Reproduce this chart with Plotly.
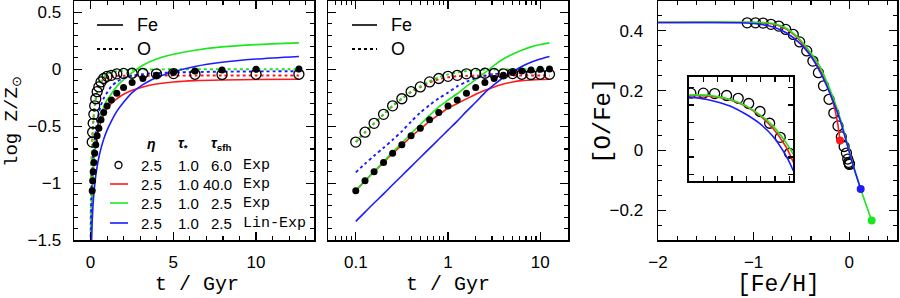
import plotly.graph_objects as go

# ---------------- data ----------------
# time grid of the tau_sfh = 6 Gyr model markers (Gyr)
t_pts = [0.1, 0.126, 0.158, 0.2, 0.251, 0.316, 0.398, 0.501, 0.631, 0.794, 1.0,
         1.259, 1.585, 1.995, 2.512, 3.162, 3.981, 5.012, 6.31, 7.943, 10.0, 12.589]
# early times used only by the linear-time panel (lines plunge toward t=0)
t_early = [0.003, 0.01, 0.03, 0.05]

# model tau_sfh=6 Exp : Fe (filled dots) and O (open circles), log Z/Zsun
fe_ref = [-1.067, -0.98, -0.901, -0.818, -0.737, -0.664, -0.585, -0.518, -0.444, -0.38, -0.322,
          -0.269, -0.211, -0.161, -0.117, -0.082, -0.053, -0.029, -0.015, -0.006, 0.0, 0.003]
o_ref = [-0.640, -0.553, -0.475, -0.396, -0.321, -0.259, -0.197, -0.155, -0.111, -0.081, -0.062,
         -0.053, -0.040, -0.036, -0.035, -0.037, -0.040, -0.038, -0.044, -0.046, -0.044, -0.044]

# tau_sfh = 40 Exp (red)
red_fe = [-1.067, -0.98, -0.90, -0.82, -0.74, -0.668, -0.592, -0.525, -0.458, -0.398, -0.342,
          -0.30, -0.26, -0.22, -0.185, -0.155, -0.13, -0.112, -0.10, -0.094, -0.09, -0.088]
red_o = [-0.640, -0.553, -0.475, -0.396, -0.321, -0.259, -0.199, -0.156, -0.115, -0.088, -0.07,
         -0.061, -0.058, -0.057, -0.057, -0.057, -0.056, -0.056, -0.055, -0.055, -0.055, -0.055]
# tau_sfh = 2.5 Exp (green)
green_fe = [-1.067, -0.98, -0.898, -0.812, -0.727, -0.648, -0.565, -0.485, -0.405, -0.33, -0.27,
            -0.215, -0.15, -0.09, -0.03, 0.035, 0.09, 0.132, 0.168, 0.197, 0.217, 0.232]
green_o = [-0.640, -0.553, -0.475, -0.396, -0.321, -0.257, -0.195, -0.15, -0.105, -0.07, -0.045,
           -0.027, -0.015, -0.008, -0.004, -0.002, -0.001, 0.0, 0.0, 0.0, 0.0, 0.0]
# tau_sfh = 2.5 Lin-Exp (blue)
blue_fe = [-1.336, -1.255, -1.175, -1.095, -1.015, -0.935, -0.855, -0.775, -0.695, -0.615, -0.535,
           -0.455, -0.37, -0.29, -0.205, -0.135, -0.072, -0.022, 0.025, 0.062, 0.09, 0.113]
blue_o = [-0.906, -0.83, -0.76, -0.69, -0.62, -0.545, -0.46, -0.38, -0.315, -0.255, -0.205,
          -0.15, -0.11, -0.078, -0.056, -0.042, -0.034, -0.028, -0.024, -0.021, -0.019, -0.017]

# early-time values (t_early) for the linear panel
red_fe_early = [-2.3, -1.9, -1.5, -1.32]
green_fe_early = [-2.3, -1.9, -1.5, -1.32]
blue_fe_early = [-2.6, -2.2, -1.76, -1.58]
red_o_early = [-1.9, -1.45, -1.05, -0.88]
green_o_early = [-1.9, -1.45, -1.05, -0.88]
blue_o_early = [-2.1, -1.7, -1.3, -1.13]

# right panel: [O/Fe] vs [Fe/H] tracks
rp_red_fe = [-2.0, -1.066, -0.794, -0.654, -0.515, -0.41, -0.305, -0.229, -0.166, -0.124, -0.096]
rp_red_ofe = [0.428, 0.428, 0.423, 0.405, 0.367, 0.322, 0.269, 0.216, 0.158, 0.097, 0.033]
rp_green_fe = [-2.0, -1.066, -0.794, -0.654, -0.515, -0.41, -0.305, -0.229, -0.159, -0.096,
               -0.041, 0.016, 0.12, 0.235]
rp_green_ofe = [0.428, 0.429, 0.425, 0.408, 0.371, 0.33, 0.28, 0.225, 0.169, 0.108,
                0.047, -0.02, -0.129, -0.235]
rp_blue_fe = [-2.0, -1.142, -0.933, -0.794, -0.654, -0.515, -0.41, -0.305, -0.235, -0.166,
              -0.096, -0.026, 0.043, 0.12]
rp_blue_ofe = [0.428, 0.427, 0.422, 0.413, 0.393, 0.358, 0.319, 0.263, 0.216, 0.163,
               0.102, 0.025, -0.053, -0.129]

# inset tracks
in_fe = [-1.082, -0.961, -0.869, -0.775, -0.683, -0.59, -0.497, -0.404, -0.353]
in_green_ofe = [0.423, 0.423, 0.419, 0.412, 0.40, 0.382, 0.358, 0.322, 0.297]
in_red_ofe = [0.422, 0.421, 0.418, 0.411, 0.399, 0.38, 0.353, 0.313, 0.28]
in_blue_ofe = [0.419, 0.414, 0.407, 0.397, 0.382, 0.363, 0.336, 0.294, 0.262]
n_inset_pts = 10

# legend table
leg_eta = ["2.5", "2.5", "2.5", "2.5"]
leg_tau = ["1.0", "1.0", "1.0", "1.0"]
leg_tsfh = ["6.0", "40.0", "2.5", "2.5"]
leg_type = ["Exp", "Exp", "Exp", "Lin-Exp"]

RED, GREEN, BLUE = "#ff1a1a", "#1ee61e", "#1c1cff"

# ---------------- figure ----------------
W, H = 900, 298


def px(x):
    return x / W


def py(y):
    return 1 - y / H


fig = go.Figure()
LW = 1.6
DW = 1.9

models = [
    (RED, red_fe, red_o, red_fe_early, red_o_early),
    (GREEN, green_fe, green_o, green_fe_early, green_o_early),
    (BLUE, blue_fe, blue_o, blue_fe_early, blue_o_early),
]

for ax in ["1", "2"]:
    xa = "x" if ax == "1" else "x2"
    ya = "y" if ax == "1" else "y2"
    for col, fe, o, fe_e, o_e in models:
        if ax == "1":
            tt = t_early + t_pts
            fev = fe_e + fe
            ov = o_e + o
        else:
            tt = t_pts
            fev = fe
            ov = o
        fig.add_trace(go.Scatter(x=tt, y=ov, mode="lines", xaxis=xa, yaxis=ya,
                                 line=dict(color=col, width=DW, dash="dot", shape="spline", smoothing=0.8)))
        fig.add_trace(go.Scatter(x=tt, y=fev, mode="lines", xaxis=xa, yaxis=ya,
                                 line=dict(color=col, width=LW, shape="spline", smoothing=0.8)))
    fig.add_trace(go.Scatter(x=t_pts, y=fe_ref, mode="markers", xaxis=xa, yaxis=ya,
                             marker=dict(symbol="circle", size=7, color="black")))
    fig.add_trace(go.Scatter(x=t_pts, y=o_ref, mode="markers", xaxis=xa, yaxis=ya,
                             marker=dict(symbol="circle-open", size=10, color="black",
                                         line=dict(width=1.3, color="black"))))

# right panel
ofe_ref = [o - f for o, f in zip(o_ref, fe_ref)]
fig.add_trace(go.Scatter(x=fe_ref, y=ofe_ref, mode="markers", xaxis="x3", yaxis="y3",
                         marker=dict(symbol="circle-open", size=10, color="black",
                                     line=dict(width=1.3, color="black"))))
for col, xs, ys in [(RED, rp_red_fe, rp_red_ofe), (GREEN, rp_green_fe, rp_green_ofe),
                    (BLUE, rp_blue_fe, rp_blue_ofe)]:
    fig.add_trace(go.Scatter(x=xs, y=ys, mode="lines", xaxis="x3", yaxis="y3",
                             line=dict(color=col, width=LW, shape="spline", smoothing=0.8)))
for col, xs, ys in [(RED, rp_red_fe, rp_red_ofe), (BLUE, rp_blue_fe, rp_blue_ofe),
                    (GREEN, rp_green_fe, rp_green_ofe)]:
    fig.add_trace(go.Scatter(x=[xs[-1]], y=[ys[-1]], mode="markers", xaxis="x3", yaxis="y3",
                             marker=dict(size=8, color=col)))

# inset
fig.add_trace(go.Scatter(x=fe_ref[:n_inset_pts], y=ofe_ref[:n_inset_pts], mode="markers",
                         xaxis="x4", yaxis="y4",
                         marker=dict(symbol="circle-open", size=10, color="black",
                                     line=dict(width=1.3, color="black"))))
for col, ys in [(BLUE, in_blue_ofe), (RED, in_red_ofe), (GREEN, in_green_ofe)]:
    fig.add_trace(go.Scatter(x=in_fe, y=ys, mode="lines", xaxis="x4", yaxis="y4",
                             line=dict(color=col, width=LW, shape="spline", smoothing=0.8)))

# ---------------- axes ----------------
TICKFONT = dict(family="Liberation Sans", size=17, color="black")
minor = dict(ticks="inside", ticklen=4, tickwidth=1.1, tickcolor="black", showgrid=False)


def axis(**kw):
    d = dict(showline=True, linecolor="black", linewidth=1.5, mirror="allticks",
             ticks="inside", ticklen=8, tickwidth=1.2, tickcolor="black",
             showgrid=False, zeroline=False, tickfont=TICKFONT, automargin=False)
    d.update(kw)
    return d


ydom = [py(240), py(1)]
fig.update_layout(
    template="none",
    width=W, height=H, margin=dict(l=0, r=0, t=0, b=0, pad=0, autoexpand=False),
    paper_bgcolor="white", plot_bgcolor="rgba(0,0,0,0)", showlegend=False,
    xaxis=axis(domain=[px(74), px(314)], range=[-1, 13.5], dtick=5, tick0=0,
               minor=dict(minor, dtick=1), ticklabelstandoff=6, anchor="y"),
    yaxis=axis(domain=ydom, range=[-1.5, 0.6], dtick=0.5, tick0=0,
               minor=dict(minor, dtick=0.1), ticklabelstandoff=8, anchor="x"),
    xaxis2=axis(domain=[px(328), px(568)], type="log", range=[-1.301, 1.301],
                tickvals=[0.1, 1, 10], ticktext=["0.1", "1", "10"],
                minor=dict(minor, tickvals=[0.06, 0.07, 0.08, 0.09, 0.2, 0.3, 0.4, 0.5, 0.6, 0.7,
                                            0.8, 0.9, 2, 3, 4, 5, 6, 7, 8, 9]),
                ticklabelstandoff=6, anchor="y2"),
    yaxis2=axis(domain=ydom, range=[-1.5, 0.6], dtick=0.5, tick0=0,
                minor=dict(minor, dtick=0.1), showticklabels=False, anchor="x2"),
    xaxis3=axis(domain=[px(658), px(897)], range=[-2.0, 0.5], dtick=1, tick0=0,
                minor=dict(minor, dtick=0.2), ticklabelstandoff=6, anchor="y3"),
    yaxis3=axis(domain=ydom, range=[-0.3, 0.5], dtick=0.2, tick0=0,
                minor=dict(minor, dtick=0.05), ticklabelstandoff=10, anchor="x3"),
    xaxis4=axis(domain=[px(688.7), px(793.3)], range=[-1.082, -0.353], dtick=0.1, tick0=-0.98,
                ticklen=5, showticklabels=False, anchor="y4"),
    yaxis4=axis(domain=[py(181.3), py(76.7)], range=[0.2395, 0.462], dtick=0.037, tick0=0.439,
                ticklen=5, showticklabels=False, anchor="x4"),
)

# ---------------- annotations ----------------
ann = []


def text(x, y, s, size=17, family="Liberation Sans", xanchor="center", angle=0):
    ann.append(dict(x=px(x), y=py(y), xref="paper", yref="paper", text=s, showarrow=False,
                    xanchor=xanchor, yanchor="middle", textangle=angle,
                    font=dict(family=family, size=size, color="black")))


MONO = "Liberation Mono"
text(13, 122, "log Z/Z<sub>⊙</sub>", size=19, family=MONO, angle=-90)
text(197, 284, "t / Gyr", size=20, family=MONO)
text(448, 284, "t / Gyr", size=20, family=MONO)
text(778, 285, "[Fe/H]", size=23, family=MONO)
text(603, 121, "[O/Fe]", size=24, family=MONO, angle=-90)

shapes = []
for x0, x1, xt in [(97, 123, 135), (352, 377, 389)]:
    shapes.append(dict(type="line", xref="paper", yref="paper", x0=px(x0), x1=px(x1),
                       y0=py(25), y1=py(25), line=dict(color="black", width=1.6)))
    shapes.append(dict(type="line", xref="paper", yref="paper", x0=px(x0), x1=px(x1),
                       y0=py(49), y1=py(49), line=dict(color="black", width=1.8, dash="dot")))
    text(xt, 25, "Fe", size=18, xanchor="left")
    text(xt, 49, "O", size=18, xanchor="left")

# legend table
text(151, 144, "<b><i>η</i></b>", size=14)
text(183, 144, "<b><i>τ</i></b><sub><b>*</b></sub>", size=14)
text(221, 144, "<b><i>τ</i></b><sub><b>sfh</b></sub>", size=14)
row_y = [165, 184, 203, 223]
for i, yy in enumerate(row_y):
    text(151, yy, leg_eta[i], size=15)
    text(188, yy, leg_tau[i], size=15)
    text(234, yy, leg_tsfh[i], size=15, xanchor="right")
    text(241, yy, leg_type[i], size=15, family=MONO, xanchor="left")
shapes.append(dict(type="circle", xref="paper", yref="paper", x0=px(115), x1=px(122),
                   y0=py(168.5), y1=py(161.5), line=dict(color="black", width=1.3)))
for yy, col in zip(row_y[1:], [RED, GREEN, BLUE]):
    shapes.append(dict(type="line", xref="paper", yref="paper", x0=px(110), x1=px(128),
                       y0=py(yy), y1=py(yy), line=dict(color=col, width=1.6)))

fig.update_layout(annotations=ann, shapes=shapes)
fig.write_html("out.html", config={"displayModeBar": False, "staticPlot": True},
               post_script="document.body.style.margin='0px';document.body.style.overflow='hidden';")
